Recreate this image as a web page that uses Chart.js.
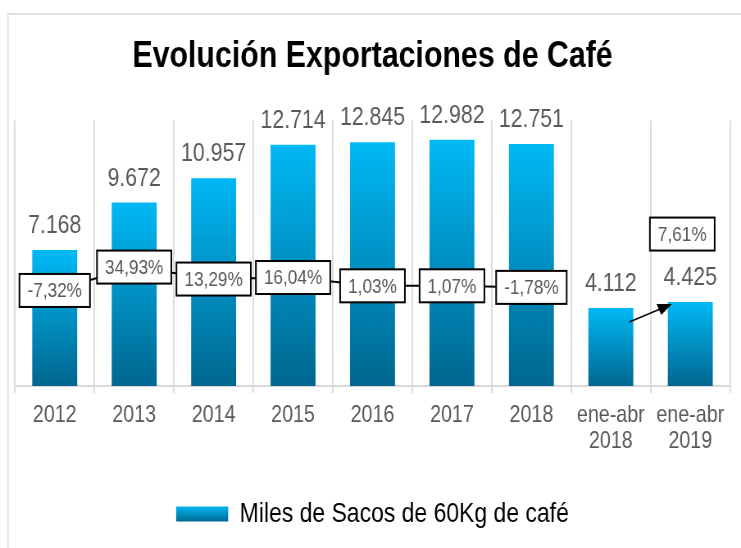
<!DOCTYPE html>
<html lang="es">
<head>
<meta charset="UTF-8">
<title>Evolución Exportaciones de Café</title>
<script src="https://cdn.jsdelivr.net/npm/chart.js@4"></script>
<style>
  body { margin: 0; background: #fff; }
  /* el lienzo se dibuja más ancho y se comprime en pantalla: así el texto queda estrecho como Arial Narrow */
  #chart { width: 741px; height: 548px; }
</style>
</head>
<body>
<canvas id="chart" width="904" height="548" style="width:741px;height:548px"></canvas>
<script>
const categorias = ['2012', '2013', '2014', '2015', '2016', '2017', '2018', ['ene-abr', '2018'], ['ene-abr', '2019']];
const sacos = [7168, 9672, 10957, 12714, 12845, 12982, 12751, 4112, 4425];
const variacion = [-7.32, 34.93, 13.29, 16.04, 1.03, 1.07, -1.78, null, null];
const variacionParcial = 7.61; // ene-abr 2019 frente a ene-abr 2018
const nombreSerie = 'Miles de Sacos de 60Kg de café';

const FONT = '"Liberation Sans", Arial, sans-serif';
const GRIS = '#595959';
const K = 904 / 741; // px de lienzo por px de pantalla en horizontal

function fmtMiles(v) {
    return String(v).replace(/\B(?=(\d{3})+(?!\d))/g, '.');
}
function fmtPct(v) {
    return v.toFixed(2).replace('.', ',') + '%';
}

function degradado(ctx, top, bottom) {
    const g = ctx.createLinearGradient(0, top, 0, bottom);
    g.addColorStop(0, '#00b9f5');
    g.addColorStop(1, '#00668f');
    return g;
}

function colorBarra(c) {
    const chart = c.chart;
    if (!chart.chartArea || c.type !== 'data') return '#0099d0';
    const y = chart.scales.y;
    return degradado(chart.ctx, y.getPixelForValue(c.raw), y.getPixelForValue(0));
}

function caja(ctx, texto, x, y) {
    ctx.font = '21px ' + FONT;
    const w = ctx.measureText(texto).width + 16 * K;
    const h = 33;
    ctx.fillStyle = '#fff';
    ctx.fillRect(x - w / 2, y - h / 2, w, h);
    ctx.lineWidth = 2;
    ctx.strokeStyle = '#000';
    ctx.strokeRect(x - w / 2, y - h / 2, w, h);
    ctx.fillStyle = GRIS;
    ctx.textAlign = 'center';
    ctx.textBaseline = 'middle';
    ctx.fillText(texto, x, y + 1);
}

// marco gris del gráfico (recortado a la derecha y abajo)
const marco = {
    id: 'marco',
    beforeDraw(chart) {
        const ctx = chart.ctx;
        ctx.save();
        ctx.strokeStyle = '#d9d9d9';
        ctx.lineWidth = 1.5;
        ctx.beginPath();
        ctx.moveTo(8 * K, chart.height);
        ctx.lineTo(8 * K, 14);
        ctx.lineTo(chart.width, 14);
        ctx.stroke();
        ctx.restore();
        // degradado para el cuadro de la leyenda
        const lg = chart.legend;
        if (lg && lg.legendItems && lg.legendItems.length) {
            const cy = (lg.top + lg.bottom) / 2;
            lg.legendItems[0].fillStyle = degradado(ctx, cy - 8, cy + 8);
        }
    }
};

const etiquetas = {
    id: 'etiquetas',
    afterDatasetsDraw(chart) {
        const ctx = chart.ctx;
        const barras = chart.getDatasetMeta(0).data;
        const puntos = chart.getDatasetMeta(1).data;
        ctx.save();

        ctx.font = '26px ' + FONT;
        ctx.fillStyle = GRIS;
        ctx.textAlign = 'center';
        ctx.textBaseline = 'alphabetic';
        barras.forEach((b, i) => ctx.fillText(fmtMiles(sacos[i]), b.x, b.y - 17));

        // flecha entre ene-abr 2018 y ene-abr 2019 (calculada en px de pantalla)
        const a = barras[7], b = barras[8];
        const x0 = (a.x + a.width / 2) / K - 4, y0 = a.y + 14;
        const x1 = (b.x - b.width / 2) / K + 4, y1 = b.y + 2;
        const ang = Math.atan2(y1 - y0, x1 - x0);
        const c = Math.cos(ang), s = Math.sin(ang);
        ctx.strokeStyle = '#000';
        ctx.fillStyle = '#000';
        ctx.lineWidth = 1.5;
        ctx.beginPath();
        ctx.moveTo(x0 * K, y0);
        ctx.lineTo((x1 - 10 * c) * K, y1 - 10 * s);
        ctx.stroke();
        ctx.beginPath();
        ctx.moveTo(x1 * K, y1);
        ctx.lineTo((x1 - 14 * c + 6 * s) * K, y1 - 14 * s - 6 * c);
        ctx.lineTo((x1 - 14 * c - 6 * s) * K, y1 - 14 * s + 6 * c);
        ctx.closePath();
        ctx.fill();

        puntos.forEach((p, i) => {
            if (variacion[i] == null) return;
            caja(ctx, fmtPct(variacion[i]), p.x, p.y);
        });
        caja(ctx, fmtPct(variacionParcial), b.x - 8 * K, b.y - 68);

        ctx.restore();
    }
};

new Chart(document.getElementById('chart'), {
    type: 'bar',
    data: {
        labels: categorias,
        datasets: [{
            label: nombreSerie,
            data: sacos,
            yAxisID: 'y',
            backgroundColor: colorBarra,
            borderWidth: 0,
            categoryPercentage: 1,
            barPercentage: 0.566,
            order: 2
        }, {
            type: 'line',
            label: 'Variación',
            data: variacion,
            yAxisID: 'y2',
            borderColor: '#000',
            borderWidth: 2,
            pointRadius: 0,
            fill: false,
            order: 1
        }]
    },
    options: {
        responsive: false,
        animation: false,
        devicePixelRatio: 1,
        layout: { padding: { top: 14, left: 15 * K, right: 11 * K, bottom: 10 } },
        scales: {
            x: {
                offset: true,
                grid: { offset: true, color: '#d9d9d9', lineWidth: 1.8, tickLength: 7 },
                border: { color: '#d9d9d9', width: 2 },
                ticks: {
                    color: GRIS,
                    font: { family: FONT, size: 24, lineHeight: 1.1 },
                    padding: 9,
                    maxRotation: 0,
                    autoSkip: false
                },
                afterFit(scale) {
                    scale.height = 548 - 10 - scale.chart.legend.height - 386;
                }
            },
            y: { display: false, min: 0, max: 14000 },
            y2: { display: false, min: -180, max: 300 }
        },
        plugins: {
            title: {
                display: true,
                text: 'Evolución Exportaciones de Café',
                color: '#000',
                font: { family: FONT, size: 37, weight: 'bold', lineHeight: 1.2 },
                padding: { top: 21, bottom: 41 }
            },
            legend: {
                position: 'bottom',
                labels: {
                    color: GRIS,
                    font: { family: FONT, size: 28 },
                    boxWidth: 52 * K,
                    boxHeight: 15,
                    padding: 10,
                    generateLabels: chart => [{
                        text: nombreSerie,
                        fillStyle: '#0099d0',
                        strokeStyle: 'rgba(0,0,0,0)',
                        lineWidth: 0,
                        datasetIndex: 0
                    }]
                }
            },
            tooltip: { enabled: false }
        }
    },
    plugins: [marco, etiquetas]
});
</script>
</body>
</html>
